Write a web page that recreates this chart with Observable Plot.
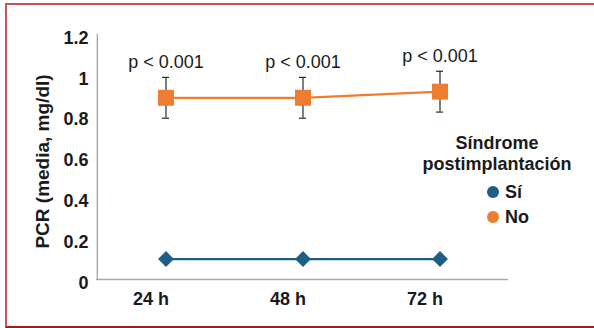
<!DOCTYPE html>
<html><head><meta charset="utf-8">
<script src="https://cdn.jsdelivr.net/npm/d3@7"></script>
<script src="https://cdn.jsdelivr.net/npm/@observablehq/plot@0.6"></script>
<style>
body{margin:0;width:594px;height:328px;overflow:hidden;background:#fff;font-family:Arial,"Liberation Sans",sans-serif;}
#wrap{position:relative;width:594px;height:328px;}
#border{position:absolute;left:5px;top:3px;width:620px;height:321px;border-top:2px solid #c35656;border-left:2px solid #c35656;border-bottom:2px solid #9e1b1b;pointer-events:none;}
#legend-title{position:absolute;left:397px;top:133px;width:200px;text-align:center;font-size:18px;font-weight:bold;line-height:21px;color:#1a1a1a;}
.item{position:absolute;left:487px;display:flex;align-items:center;font-size:18px;font-weight:bold;line-height:24px;color:#1a1a1a;}
.item span.sw{display:inline-block;width:12px;height:12px;border-radius:50%;margin-right:6px;}
</style></head>
<body><div id="wrap"></div>
<script>
const times = ["24 h", "48 h", "72 h"];
const siMeans = [0.1, 0.1, 0.1];
const noMeans = [0.89, 0.89, 0.92];
const noErrors = [0.1, 0.1, 0.1];
const pLabels = ["p < 0.001", "p < 0.001", "p < 0.001"];
const yTicks = [0, 0.2, 0.4, 0.6, 0.8, 1, 1.2];
const seriesNames = ["Sí", "No"];
const seriesColors = ["#1d5f87", "#ed7d31"];
const legendTitle = ["Síndrome", "postimplantación"];
const yTitle = "PCR (media, mg/dl)";

const si = times.map((t, i) => ({time: t, mean: siMeans[i]}));
const no = times.map((t, i) => ({time: t, mean: noMeans[i], err: noErrors[i], p: pLabels[i]}));

const W = 594, H = 328, ML = 96, MR = 86, MT = 34, MB = 49;
const step = (W - ML - MR) / times.length;
const font = 'Arial, "Liberation Sans", sans-serif';
const chart = Plot.plot({
  width: W, height: H,
  marginLeft: ML, marginRight: MR, marginTop: MT, marginBottom: MB,
  style: {fontFamily: font, background: "transparent", color: "#1a1a1a"},
  x: {type: "band", domain: times, padding: 0},
  y: {domain: [0, 1.2]},
  marks: [
    Plot.ruleY([0], {stroke: "#a8a8a8", strokeWidth: 1.6}),
    Plot.ruleX([times[0]], {y1: 0, y2: 1.2, dx: -step / 2, stroke: "#a8a8a8", strokeWidth: 1.4}),
    Plot.axisY({ticks: yTicks, tickSize: 0, tickPadding: 8, dy: 3.5, fontSize: 18, fontWeight: "bold", tickFormat: d => String(d), label: null}),
    Plot.axisX({tickSize: 0, tickPadding: 13, dx: -15, fontSize: 18, fontWeight: "bold", label: null}),
    Plot.text([yTitle], {frameAnchor: "left", textAnchor: "middle", rotate: -90, dx: -54, dy: 4.5, fontSize: 19, fontWeight: "bold", fill: "#1a1a1a"}),
    Plot.ruleX(no, {x: "time", y1: d => d.mean - d.err, y2: d => d.mean + d.err, stroke: "#2a2a2a", strokeWidth: 1.2}),
    Plot.tickY(no, {x: "time", y: d => d.mean + d.err, insetLeft: 65, insetRight: 65, stroke: "#2a2a2a", strokeWidth: 1.2}),
    Plot.tickY(no, {x: "time", y: d => d.mean - d.err, insetLeft: 65, insetRight: 65, stroke: "#2a2a2a", strokeWidth: 1.2}),
    Plot.line(no, {x: "time", y: "mean", stroke: seriesColors[1], strokeWidth: 2.3}),
    Plot.line(si, {x: "time", y: "mean", stroke: seriesColors[0], strokeWidth: 2.3}),
    Plot.dot(no, {x: "time", y: "mean", symbol: "square", r: 9, fill: seriesColors[1], stroke: "none"}),
    Plot.dot(si, {x: "time", y: "mean", symbol: d3.symbolDiamond2, r: 7.2, fill: seriesColors[0], stroke: "none"}),
    Plot.text(no, {x: "time", y: d => d.mean + d.err, text: "p", dy: -15, fontSize: 18, fill: "#1a1a1a"})
  ]
});
const wrap = document.getElementById("wrap");
wrap.appendChild(chart);
const border = document.createElement("div"); border.id = "border"; wrap.appendChild(border);
const lt = document.createElement("div"); lt.id = "legend-title"; lt.innerHTML = legendTitle.join("<br>"); wrap.appendChild(lt);
seriesNames.forEach((n, i) => {
  const it = document.createElement("div"); it.className = "item";
  it.style.top = (180 + i * 25) + "px";
  it.innerHTML = `<span class="sw" style="background:${seriesColors[i]}"></span>${n}`;
  wrap.appendChild(it);
});
chart.style.position = "absolute"; chart.style.left = "0"; chart.style.top = "0";
</script></body></html>
